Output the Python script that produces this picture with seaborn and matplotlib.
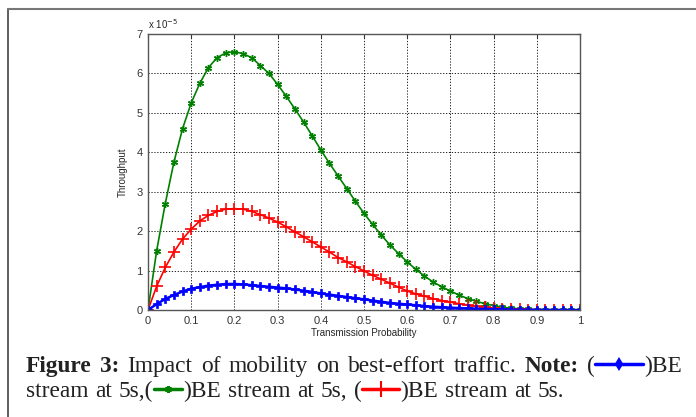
import numpy as np
import pandas as pd
import matplotlib
matplotlib.use("Agg")
import matplotlib.pyplot as plt
from matplotlib.lines import Line2D
import seaborn as sns

# transmission probability, step 0.02
prob = np.round(np.arange(0, 1.0001, 0.02), 2)

# throughput in units of 1e-5
green_be = [0, 1.5, 2.7, 3.75, 4.6, 5.25, 5.75, 6.15, 6.4, 6.52, 6.55, 6.5, 6.4, 6.2, 6.0,
            5.72, 5.42, 5.1, 4.77, 4.42, 4.06, 3.72, 3.40, 3.08, 2.76, 2.45, 2.17, 1.90,
            1.65, 1.43, 1.22, 1.03, 0.86, 0.71, 0.59, 0.48, 0.38, 0.29, 0.22, 0.16, 0.11,
            0.07, 0.045, 0.03, 0.015, 0.008, 0.004, 0.002, 0.001, 0, 0]
red_be = [0, 0.6, 1.08, 1.47, 1.8, 2.05, 2.26, 2.4, 2.5, 2.56, 2.57, 2.56, 2.5, 2.42, 2.33,
          2.23, 2.11, 1.98, 1.86, 1.73, 1.6, 1.47, 1.33, 1.22, 1.1, 0.99, 0.88, 0.78,
          0.68, 0.58, 0.48, 0.41, 0.35, 0.29, 0.24, 0.2, 0.16, 0.12, 0.09, 0.07, 0.05,
          0.035, 0.025, 0.018, 0.012, 0.008, 0.005, 0.003, 0.002, 0.001, 0]
blue_be = [0, 0.15, 0.28, 0.38, 0.47, 0.54, 0.58, 0.62, 0.64, 0.66, 0.66, 0.65, 0.63, 0.61,
           0.59, 0.57, 0.55, 0.52, 0.49, 0.46, 0.42, 0.39, 0.36, 0.33, 0.3, 0.27, 0.24,
           0.21, 0.18, 0.16, 0.14, 0.12, 0.1, 0.085, 0.07, 0.06, 0.05, 0.04, 0.032, 0.025,
           0.02, 0.015, 0.011, 0.008, 0.006, 0.004, 0.003, 0.002, 0.001, 0, 0]

df = pd.DataFrame({"p": prob, "green": green_be, "red": red_be, "blue": blue_be})

sns.set_style("white")
plt.rcParams["font.family"] = ["Liberation Sans", "DejaVu Sans"]

W, H = 696, 417
fig = plt.figure(figsize=(W / 100, H / 100), dpi=100)
ax = fig.add_axes([148 / W, 1 - 310 / H, 432 / W, 276 / H])

asterisk = (6, 2, 0)
sns.lineplot(data=df, x="p", y="green", color="#008000", marker=asterisk, markersize=5,
             markeredgewidth=1, markeredgecolor="#008000", linewidth=1.2, ax=ax)
sns.lineplot(data=df, x="p", y="red", color="red", marker="+", markersize=8,
             markeredgewidth=1.2, markeredgecolor="red", linewidth=1.2, ax=ax)
sns.lineplot(data=df, x="p", y="blue", color="blue", marker="P", markersize=6,
             markeredgewidth=0.5, markeredgecolor="blue", linewidth=1.8, ax=ax)

ax.set_xlim(0, 1)
ax.set_ylim(0, 7)
ax.set_xticks(np.arange(0, 1.01, 0.1))
ax.set_xticklabels(["0", "0.1", "0.2", "0.3", "0.4", "0.5", "0.6", "0.7", "0.8", "0.9", "1"])
ax.set_yticks(range(0, 8))
ax.tick_params(direction="in", length=3, labelsize=8, colors="#333333", pad=4,
               top=True, right=True)
ax.grid(True, linestyle=(0, (1.5, 2)), color="black", linewidth=0.6)
for s in ax.spines.values():
    s.set_color("#555555")
    s.set_linewidth(1)
ax.set_xlabel("Transmission Probability", fontsize=7, labelpad=2)
ax.set_ylabel("Throughput", fontsize=7, labelpad=6)
ax.text(0, 1.01, "x 10$^{-5}$", transform=ax.transAxes, fontsize=7, va="bottom", ha="left")

# outer frame (left and top edges only visible)
fig.add_artist(Line2D([8 / W, 8 / W], [0, 1 - 9 / H], transform=fig.transFigure,
                      color="#444444", linewidth=1.2))
fig.add_artist(Line2D([8 / W, 1], [1 - 9 / H, 1 - 9 / H], transform=fig.transFigure,
                      color="#777777", linewidth=1.5))

# caption
renderer = fig.canvas.get_renderer()
serif = ["Liberation Serif", "DejaVu Serif"]
fs = 16.8
space_w = fig.text(0, 0, "a a", fontsize=fs, family=serif).get_window_extent(renderer).width
space_w -= 2 * fig.text(0, 0, "a", fontsize=fs, family=serif).get_window_extent(renderer).width
for t in list(fig.texts):
    t.remove()


def sym(x, y, width, color, marker, ms, lw):
    fig.add_artist(Line2D([x / W, (x + width) / W], [1 - y / H, 1 - y / H],
                          transform=fig.transFigure, color=color, linewidth=lw))
    fig.add_artist(Line2D([(x + width / 2) / W], [1 - y / H], transform=fig.transFigure,
                          color=color, marker=marker, markersize=ms, markeredgewidth=1.5))


def caption_line(parts, x, base, extra=0.0):
    for p in parts:
        if p[0] == "sym":
            _, width, color, marker, ms, lw = p
            sym(x + 1, base - 8, width - 2, color, marker, ms, lw)
            x += width
            continue
        s, weight = p
        words = s.split(" ")
        for i, w in enumerate(words):
            if i > 0:
                x += space_w + extra
            if w:
                t = fig.text(x / W, 1 - base / H, w, fontsize=fs, family=serif,
                             fontweight=weight, va="baseline", ha="left", color="#222222")
                x += t.get_window_extent(renderer).width


caption_line([("Figure 3:", "bold"), (" Impact of mobility on best-effort traffic. ", "normal"),
              ("Note:", "bold"), (" (", "normal"),
              ("sym", 50, "blue", "d", 5, 2.5), (")BE", "normal")], 26, 372, extra=2.3)
caption_line([("stream at 5s,(", "normal"), ("sym", 30, "#008000", asterisk, 5, 2.5),
              (")BE stream at 5s, (", "normal"), ("sym", 39, "red", "+", 11, 2.5),
              (")BE stream at 5s.", "normal")], 26, 397, extra=0.8)

fig.savefig("out.png", dpi=100)
